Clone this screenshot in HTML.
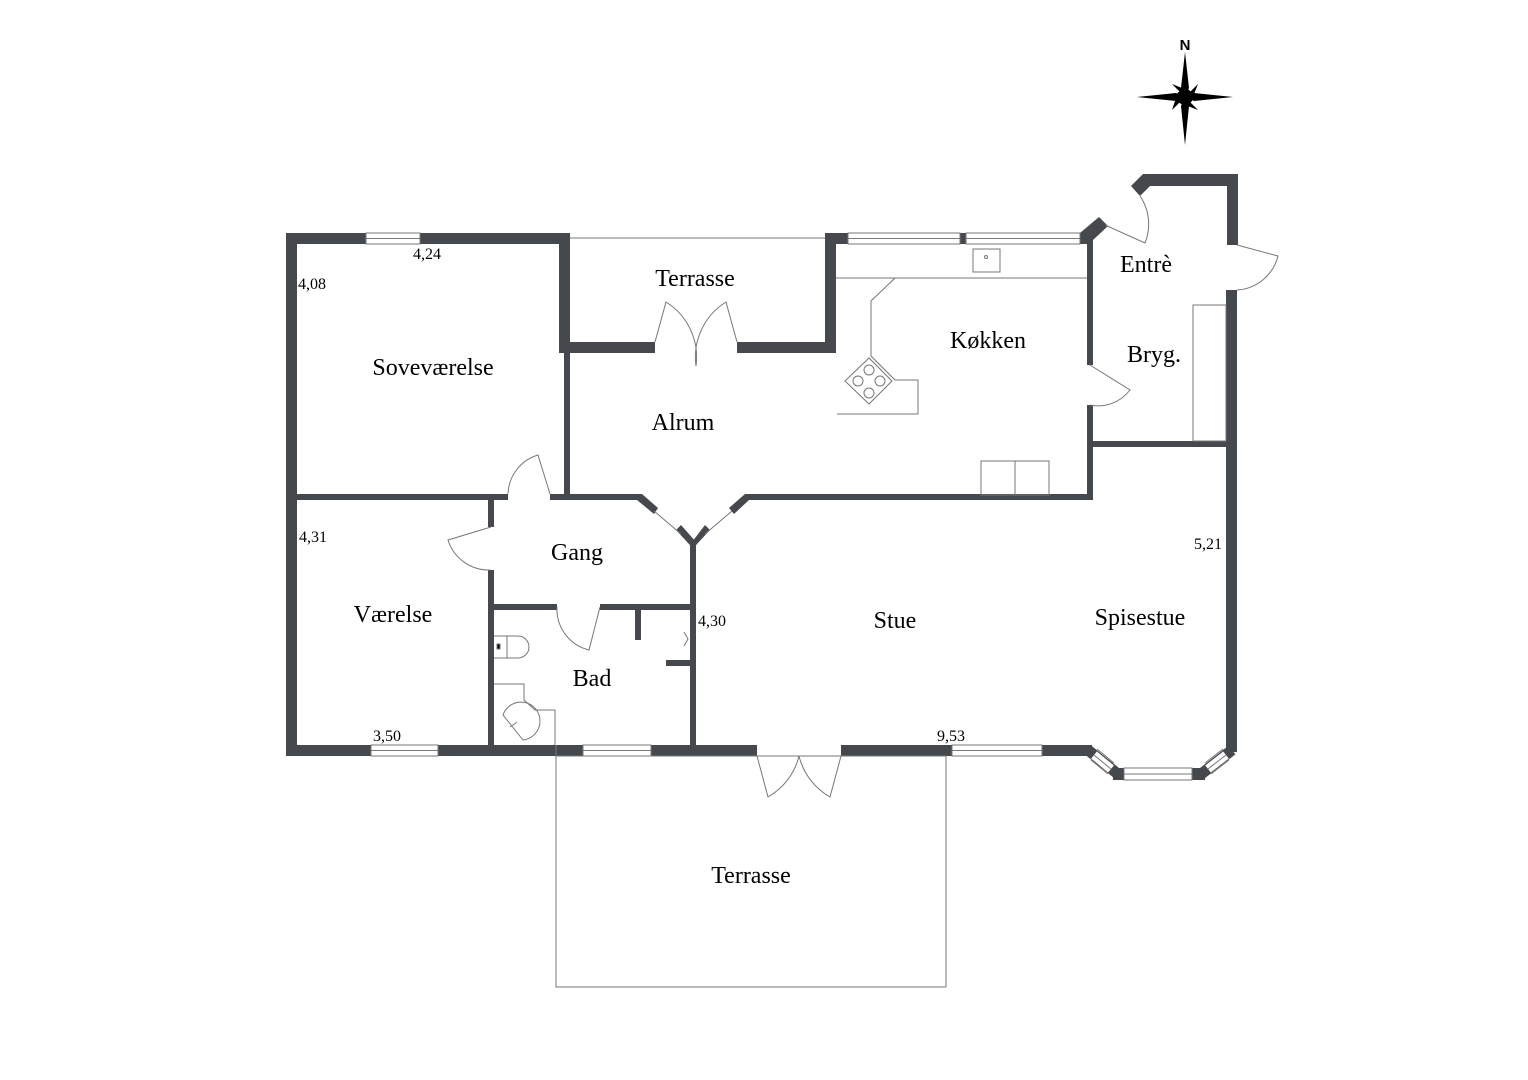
<!DOCTYPE html>
<html><head><meta charset="utf-8"><style>
html,body{margin:0;padding:0;background:#fff;}
svg{display:block;}
text{font-family:"Liberation Serif",serif;fill:#000;}
.r{font-size:24px;}
.n{font-size:16px;}
</style></head><body>
<svg width="1528" height="1080" viewBox="0 0 1528 1080" xmlns="http://www.w3.org/2000/svg">
<g fill="#45484c" stroke="none">
<rect x="286" y="233" width="80" height="11"/>
<rect x="420" y="233" width="150" height="11"/>
<rect x="286" y="233" width="11" height="523"/>
<rect x="559" y="233" width="11" height="120"/>
<rect x="564" y="342" width="6" height="158"/>
<rect x="564" y="342" width="91" height="11"/>
<rect x="737" y="342" width="99" height="11"/>
<rect x="825" y="233" width="11" height="120"/>
<rect x="825" y="233" width="23" height="11"/>
<rect x="960" y="233" width="6" height="11"/>
<polygon points="1080,233 1099,217 1108,226 1093,240 1093,244 1080,244"/>
<polygon points="1131,186 1143,174 1238,174 1238,245 1227,245 1227,186 1150,186 1140,196"/>
<rect x="1226" y="290" width="11" height="462"/>
<rect x="1087" y="236" width="6" height="129"/>
<rect x="1087" y="405" width="6" height="95"/>
<rect x="1093" y="441" width="133" height="6"/>
<rect x="297" y="494" width="211" height="6"/>
<rect x="550" y="494" width="90" height="6"/>
<rect x="749" y="494" width="344" height="6"/>
<polygon points="637,494 642,494 658,508 654,514 637,500"/>
<polygon points="676,530 681,525 696,542 693,549 689,544"/>
<polygon points="749,494 745,494 729,508 734,514 749,500"/>
<polygon points="710,530 705,525 692,542 693,549 697,544"/>
<rect x="690" y="545" width="6" height="205"/>
<rect x="488" y="497" width="6" height="30"/>
<rect x="488" y="570" width="6" height="180"/>
<rect x="494" y="604" width="63" height="6"/>
<rect x="600" y="604" width="93" height="6"/>
<rect x="635" y="610" width="6" height="30"/>
<rect x="666" y="660" width="27" height="6"/>
<rect x="286" y="745" width="85" height="11"/>
<rect x="438" y="745" width="145" height="11"/>
<rect x="651" y="745" width="106" height="11"/>
<rect x="841" y="745" width="111" height="11"/>
<rect x="1042" y="745" width="50" height="11"/>
<rect x="1113" y="768" width="11" height="12"/>
<rect x="1192" y="768" width="13" height="12"/>
</g>
<!-- bay diagonals -->
<g fill="none" stroke-linecap="butt">
<line x1="1088" y1="750" x2="1119" y2="775" stroke="#45484c" stroke-width="11"/>
<line x1="1094" y1="755" x2="1111" y2="769" stroke="#fff" stroke-width="9"/>
<line x1="1232" y1="750" x2="1200" y2="775" stroke="#45484c" stroke-width="11"/>
<line x1="1226" y1="755" x2="1208" y2="769" stroke="#fff" stroke-width="9"/>
</g>
<g fill="none" stroke="#777" stroke-width="1">
<line x1="1097" y1="749" x2="1114" y2="763"/><line x1="1091" y1="760" x2="1108" y2="774"/><line x1="1094" y1="755" x2="1111" y2="769"/>
<line x1="1223" y1="749" x2="1205" y2="763"/><line x1="1229" y1="760" x2="1211" y2="774"/><line x1="1226" y1="755" x2="1208" y2="769"/>
<rect x="366" y="233" width="54" height="11"/><line x1="366" y1="238.5" x2="420" y2="238.5"/>
<rect x="848" y="233" width="112" height="11"/><line x1="848" y1="238.5" x2="960" y2="238.5"/>
<rect x="966" y="233" width="114" height="11"/><line x1="966" y1="238.5" x2="1080" y2="238.5"/>
<rect x="371" y="745" width="67" height="11"/><line x1="371" y1="750.5" x2="438" y2="750.5"/>
<rect x="583" y="745" width="68" height="11"/><line x1="583" y1="750.5" x2="651" y2="750.5"/>
<rect x="952" y="745" width="90" height="11"/><line x1="952" y1="750.5" x2="1042" y2="750.5"/>
<rect x="1124" y="768" width="68" height="12"/><line x1="1124" y1="774" x2="1192" y2="774"/>
<line x1="654" y1="511" x2="681" y2="534"/><line x1="732" y1="511" x2="705" y2="534"/>
<line x1="570" y1="238" x2="825" y2="238"/>
<rect x="556" y="756" width="390" height="231"/>
<line x1="556" y1="745" x2="556" y2="756"/>
<path d="M655,342 L666,302 A65,65 0 0 1 696,366"/>
<path d="M737,342 L726,302 A65,65 0 0 0 696,366"/>
<path d="M757,756 L768,797 A65,65 0 0 0 799,756"/>
<path d="M841,756 L830,797 A65,65 0 0 1 799,756"/>
<path d="M508,494 A42,42 0 0 1 538,455 L550,494"/>
<path d="M491,527 L448,540 A43,43 0 0 0 491,570"/>
<path d="M557,607 A42,42 0 0 0 589,650 L600,607"/>
<path d="M1090,365 L1130,390 A40,40 0 0 1 1090,405"/>
<path d="M1105,225 L1145,243 A50,50 0 0 0 1140,196"/>
<path d="M1237,245 L1278,256 A45,45 0 0 1 1237,290"/>
<path d="M836,278 L1087,278"/>
<path d="M895,278 L871,301 L871,356 L895,380 L918,380 L918,414 L837,414"/>
<rect x="973" y="249" width="27" height="23"/>
<circle cx="986" cy="257" r="1.5"/>
<polygon points="845,381 869,358 892,381 869,404"/>
<circle cx="869" cy="370" r="5"/><circle cx="869" cy="393" r="5"/>
<circle cx="858" cy="381" r="5"/><circle cx="880" cy="381" r="5"/>
<rect x="981" y="461" width="34" height="34"/><rect x="1015" y="461" width="34" height="34"/>
<rect x="1193" y="305" width="33" height="136"/>
<path d="M494,636 L518,636 A11,11 0 0 1 518,658 L494,658"/>
<line x1="507" y1="636" x2="507" y2="658"/>
<rect x="497" y="644" width="3" height="5" fill="#000"/>
<path d="M494,684 L524,684 L524,700 L535,710 L555,710 L555,745"/>
<path d="M503,715 A19,19 0 1 1 523,740 Z"/>
<line x1="510" y1="727" x2="517" y2="722"/>
<path d="M684,632 L688,639 L684,646"/>
</g>
<g fill="#000">
<polygon points="1185,52 1189,88 1185,97 1181,88"/>
<polygon points="1185,145 1189,106 1185,97 1181,106"/>
<polygon points="1137,97 1176,93 1185,97 1176,101"/>
<polygon points="1233,97 1194,93 1185,97 1194,101"/>
<polygon points="1172,84 1192,92 1185,97"/>
<polygon points="1198,84 1190,104 1185,97"/>
<polygon points="1172,110 1178,92 1185,97"/>
<polygon points="1198,110 1180,103 1185,97"/>
<circle cx="1185" cy="97" r="8"/>
<text x="1185" y="50" text-anchor="middle" style="font-family:'Liberation Sans',sans-serif;font-weight:bold;font-size:15px">N</text>
</g>
<text class="r" x="433" y="375" text-anchor="middle">Soveværelse</text>
<text class="r" x="695" y="286" text-anchor="middle">Terrasse</text>
<text class="r" x="683" y="430" text-anchor="middle">Alrum</text>
<text class="r" x="988" y="348" text-anchor="middle">Køkken</text>
<text class="r" x="1146" y="272" text-anchor="middle">Entrè</text>
<text class="r" x="1154" y="362" text-anchor="middle">Bryg.</text>
<text class="r" x="577" y="560" text-anchor="middle">Gang</text>
<text class="r" x="393" y="622" text-anchor="middle">Værelse</text>
<text class="r" x="592" y="686" text-anchor="middle">Bad</text>
<text class="r" x="895" y="628" text-anchor="middle">Stue</text>
<text class="r" x="1140" y="625" text-anchor="middle">Spisestue</text>
<text class="r" x="751" y="883" text-anchor="middle">Terrasse</text>
<text class="n" x="413" y="259">4,24</text>
<text class="n" x="298" y="289">4,08</text>
<text class="n" x="299" y="542">4,31</text>
<text class="n" x="698" y="626">4,30</text>
<text class="n" x="1194" y="549">5,21</text>
<text class="n" x="373" y="741">3,50</text>
<text class="n" x="937" y="741">9,53</text>
</svg>
</body></html>
